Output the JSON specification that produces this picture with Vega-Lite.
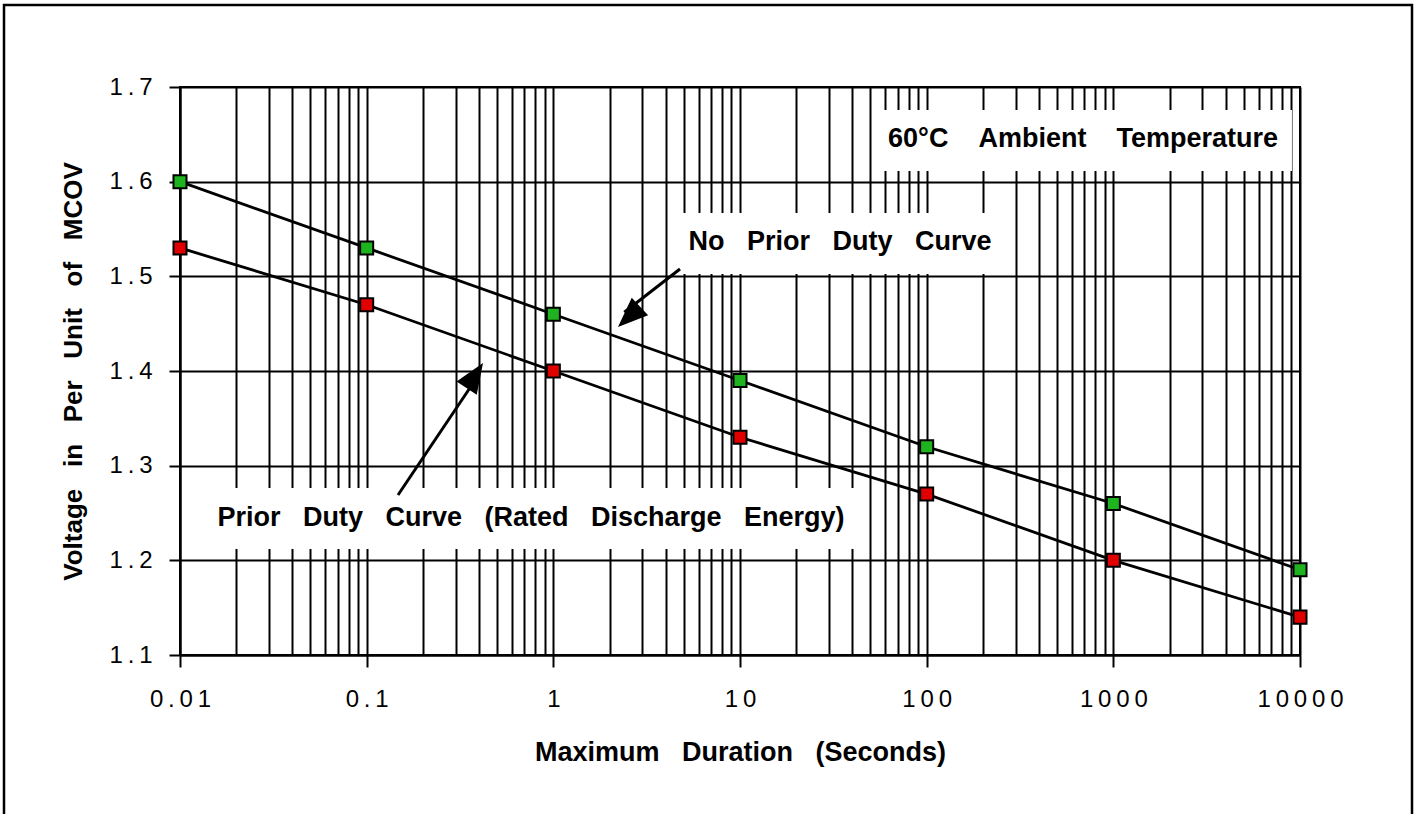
{
  "$schema": "https://vega.github.io/schema/vega-lite/v6.json",
  "width": 1120,
  "height": 568,
  "autosize": "none",
  "padding": {"left": 180, "top": 87, "right": 116, "bottom": 159},
  "background": "white",
  "config": {
    "view": {"stroke": "black", "strokeWidth": 2},
    "font": "Liberation Sans"
  },
  "datasets": {
    "curves": [
      {"duration": 0.01, "voltage": 1.60, "curve": "No Prior Duty"},
      {"duration": 0.1, "voltage": 1.53, "curve": "No Prior Duty"},
      {"duration": 1, "voltage": 1.46, "curve": "No Prior Duty"},
      {"duration": 10, "voltage": 1.39, "curve": "No Prior Duty"},
      {"duration": 100, "voltage": 1.32, "curve": "No Prior Duty"},
      {"duration": 1000, "voltage": 1.26, "curve": "No Prior Duty"},
      {"duration": 10000, "voltage": 1.19, "curve": "No Prior Duty"},
      {"duration": 0.01, "voltage": 1.53, "curve": "Prior Duty"},
      {"duration": 0.1, "voltage": 1.47, "curve": "Prior Duty"},
      {"duration": 1, "voltage": 1.40, "curve": "Prior Duty"},
      {"duration": 10, "voltage": 1.33, "curve": "Prior Duty"},
      {"duration": 100, "voltage": 1.27, "curve": "Prior Duty"},
      {"duration": 1000, "voltage": 1.20, "curve": "Prior Duty"},
      {"duration": 10000, "voltage": 1.14, "curve": "Prior Duty"}
    ]
  },
  "layer": [
    {
      "data": {"values": [{}]},
      "mark": {"type": "rect", "fill": "white", "stroke": null},
      "encoding": {
        "x": {
          "datum": 53.5, "type": "quantitative",
          "scale": {"type": "log", "domain": [0.01, 10000], "nice": false},
          "axis": {
            "values": [0.01,0.02,0.03,0.04,0.05,0.06,0.07,0.08,0.09,0.1,0.2,0.3,0.4,0.5,0.6,0.7,0.8,0.9,1,2,3,4,5,6,7,8,9,10,20,30,40,50,60,70,80,90,100,200,300,400,500,600,700,800,900,1000,2000,3000,4000,5000,6000,7000,8000,9000,10000],
            "title": "Maximum\u00a0\u00a0\u00a0Duration\u00a0\u00a0\u00a0(Seconds)",
            "titleFont": "Liberation Sans",
            "titleFontSize": 27,
            "titleFontWeight": "bold",
            "titleColor": "black",
            "titlePadding": 28,
            "grid": true,
            "gridColor": "black",
            "gridWidth": 2,
            "gridOpacity": 1,
            "domainColor": "black",
            "domainWidth": 2,
            "tickColor": "black",
            "tickWidth": 2,
            "tickSize": 12,
            "tickOpacity": {"condition": {"test": "abs(log(datum.value)/LN10 - round(log(datum.value)/LN10)) < 0.001", "value": 1}, "value": 0},
            "labelExpr": "abs(log(datum.value)/LN10 - round(log(datum.value)/LN10)) < 0.001 ? join(split(format(datum.value, '~g'), ''), '\u2009') : ''",
            "labelFont": "Liberation Sans",
            "labelFontSize": 24,
            "labelColor": "black",
            "labelPadding": 20,
            "labelOverlap": false,
            "labelFlush": false,
            "labelBound": false
          }
        },
        "x2": {"datum": 9057},
        "y": {
          "datum": 1.6757, "type": "quantitative",
          "scale": {"domain": [1.1, 1.7], "nice": false, "zero": false},
          "axis": {
            "values": [1.1, 1.2, 1.3, 1.4, 1.5, 1.6, 1.7],
            "labelExpr": "join(split(format(datum.value, '.1f'), ''), '\u2009')",
            "title": "Voltage\u00a0\u00a0\u00a0in\u00a0\u00a0\u00a0Per\u00a0\u00a0\u00a0Unit\u00a0\u00a0\u00a0of\u00a0\u00a0\u00a0MCOV",
            "titleFont": "Liberation Sans",
            "titleFontSize": 26,
            "titleFontWeight": "bold",
            "titleColor": "black",
            "titlePadding": 23,
            "grid": true,
            "gridColor": "black",
            "gridWidth": 2,
            "gridOpacity": 1,
            "domainColor": "black",
            "domainWidth": 2,
            "tickColor": "black",
            "tickWidth": 2,
            "tickSize": 11,
            "labelFont": "Liberation Sans",
            "labelFontSize": 24,
            "labelColor": "black",
            "labelPadding": 17,
            "labelOverlap": false,
            "labelFlush": false,
            "labelBound": false
          }
        },
        "y2": {"datum": 1.6113}
      }
    },
    {
      "data": {"values": [{}]},
      "mark": {"type": "rect", "fill": "white", "stroke": null},
      "encoding": {
        "x": {"datum": 4.32, "type": "quantitative", "scale": {"type": "log", "domain": [0.01, 10000], "nice": false}},
        "x2": {"datum": 247},
        "y": {"datum": 1.5669, "type": "quantitative"},
        "y2": {"datum": 1.5025}
      }
    },
    {
      "data": {"values": [{}]},
      "mark": {"type": "rect", "fill": "white", "stroke": null},
      "encoding": {
        "x": {"datum": 0.0128, "type": "quantitative", "scale": {"type": "log", "domain": [0.01, 10000], "nice": false}},
        "x2": {"datum": 45},
        "y": {"datum": 1.2764, "type": "quantitative"},
        "y2": {"datum": 1.212}
      }
    },
    {
      "data": {"name": "curves"},
      "mark": {"type": "line", "color": "black", "strokeWidth": 2.8},
      "encoding": {
        "x": {"field": "duration", "type": "quantitative", "scale": {"type": "log", "domain": [0.01, 10000], "nice": false}},
        "y": {"field": "voltage", "type": "quantitative"},
        "detail": {"field": "curve"}
      }
    },
    {
      "data": {"values": [{}]},
      "mark": {"type": "rule", "color": "black", "strokeWidth": 3},
      "encoding": {
        "x": {"datum": 4.77, "type": "quantitative", "scale": {"type": "log", "domain": [0.01, 10000], "nice": false}},
        "y": {"datum": 1.5077, "type": "quantitative"},
        "x2": {"datum": 2.4},
        "y2": {"datum": 1.462}
      }
    },
    {
      "data": {"values": [{}]},
      "mark": {"type": "point", "shape": "M0,0L-0.6,1.5L0.6,1.5Z", "filled": true, "color": "black", "opacity": 1, "size": 1600, "angle": 227},
      "encoding": {
        "x": {"datum": 2.22, "type": "quantitative", "scale": {"type": "log", "domain": [0.01, 10000], "nice": false}},
        "y": {"datum": 1.4465, "type": "quantitative"}
      }
    },
    {
      "data": {"values": [{}]},
      "mark": {"type": "rule", "color": "black", "strokeWidth": 3},
      "encoding": {
        "x": {"datum": 0.1472, "type": "quantitative", "scale": {"type": "log", "domain": [0.01, 10000], "nice": false}},
        "y": {"datum": 1.269, "type": "quantitative"},
        "x2": {"datum": 0.38},
        "y2": {"datum": 1.39}
      }
    },
    {
      "data": {"values": [{}]},
      "mark": {"type": "point", "shape": "M0,0L-0.6,1.5L0.6,1.5Z", "filled": true, "color": "black", "opacity": 1, "size": 1600, "angle": 33},
      "encoding": {
        "x": {"datum": 0.42, "type": "quantitative", "scale": {"type": "log", "domain": [0.01, 10000], "nice": false}},
        "y": {"datum": 1.4085, "type": "quantitative"}
      }
    },
    {
      "data": {"name": "curves"},
      "mark": {"type": "point", "shape": "square", "filled": true, "size": 170, "stroke": "black", "strokeWidth": 2, "opacity": 1},
      "encoding": {
        "x": {"field": "duration", "type": "quantitative", "scale": {"type": "log", "domain": [0.01, 10000], "nice": false}},
        "y": {"field": "voltage", "type": "quantitative"},
        "fill": {"field": "curve", "type": "nominal", "scale": {"domain": ["No Prior Duty", "Prior Duty"], "range": ["#1fb31f", "#e00000"]}, "legend": null}
      }
    },
    {
      "data": {"values": [{}]},
      "mark": {"type": "text", "text": "60°C\u00a0\u00a0\u00a0\u00a0Ambient\u00a0\u00a0\u00a0\u00a0Temperature", "font": "Liberation Sans", "fontSize": 27, "fontWeight": "bold", "color": "black", "align": "center", "baseline": "middle"},
      "encoding": {
        "x": {"datum": 688, "type": "quantitative", "scale": {"type": "log", "domain": [0.01, 10000], "nice": false}},
        "y": {"datum": 1.6451, "type": "quantitative"}
      }
    },
    {
      "data": {"values": [{}]},
      "mark": {"type": "text", "text": "No\u00a0\u00a0\u00a0Prior\u00a0\u00a0\u00a0Duty\u00a0\u00a0\u00a0Curve", "font": "Liberation Sans", "fontSize": 27, "fontWeight": "bold", "color": "black", "align": "center", "baseline": "middle"},
      "encoding": {
        "x": {"datum": 34.3, "type": "quantitative", "scale": {"type": "log", "domain": [0.01, 10000], "nice": false}},
        "y": {"datum": 1.5363, "type": "quantitative"}
      }
    },
    {
      "data": {"values": [{}]},
      "mark": {"type": "text", "text": "Prior\u00a0\u00a0\u00a0Duty\u00a0\u00a0\u00a0Curve\u00a0\u00a0\u00a0(Rated\u00a0\u00a0\u00a0Discharge\u00a0\u00a0\u00a0Energy)", "font": "Liberation Sans", "fontSize": 27, "fontWeight": "bold", "color": "black", "align": "center", "baseline": "middle"},
      "encoding": {
        "x": {"datum": 0.759, "type": "quantitative", "scale": {"type": "log", "domain": [0.01, 10000], "nice": false}},
        "y": {"datum": 1.2447, "type": "quantitative"}
      }
    },
    {
      "data": {"values": [{}]},
      "mark": {"type": "rect", "fill": null, "fillOpacity": 0, "stroke": "black", "strokeWidth": 2.5, "clip": false},
      "encoding": {
        "x": {"value": -176},
        "x2": {"value": 1232},
        "y": {"value": -82},
        "y2": {"value": 740}
      }
    }
  ]
}
